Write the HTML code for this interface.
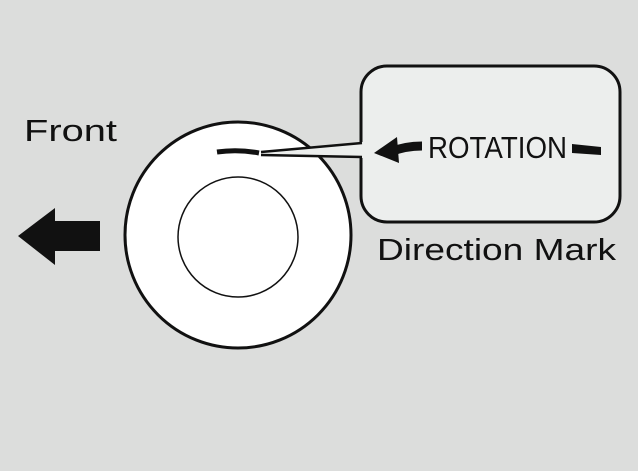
<!DOCTYPE html>
<html><head><style>
html,body{margin:0;padding:0;background:#dcdddc;}
svg{display:block}
</style></head><body>
<svg width="638" height="471" viewBox="0 0 638 471" xmlns="http://www.w3.org/2000/svg">
<rect width="638" height="471" fill="#dcdddc"/>
<circle cx="238" cy="235" r="113" fill="#fff" stroke="#111" stroke-width="3"/>
<circle cx="238" cy="237" r="60" fill="#fff" stroke="#111" stroke-width="1.5"/>
<path d="M217 152 Q238 149 259 153" stroke="#111" stroke-width="5" fill="none"/>
<rect x="361" y="66" width="259" height="156" rx="26" fill="#eceeed" stroke="#111" stroke-width="3"/>
<polygon points="261,151 363,142 363,158 261,156" fill="#eceeed"/>
<line x1="261" y1="152" x2="362" y2="143" stroke="#111" stroke-width="2.5"/>
<line x1="261" y1="155" x2="362" y2="157" stroke="#111" stroke-width="2.5"/>
<path d="M390 152 Q405 146 422 146" stroke="#111" stroke-width="9" fill="none"/>
<polygon points="374,153 397,137 399,163" fill="#111"/>
<text x="428" y="158" font-family="Liberation Sans Narrow, Liberation Sans, sans-serif" font-size="31" fill="#111" textLength="139" lengthAdjust="spacingAndGlyphs">ROTATION</text>
<path d="M572 144 L601 147 L601 155 L572 153 Z" fill="#111"/>
<text x="24" y="141" font-family="Liberation Sans, sans-serif" font-size="31" fill="#111" textLength="93" lengthAdjust="spacingAndGlyphs">Front</text>
<text x="377" y="260" font-family="Liberation Sans, sans-serif" font-size="31" fill="#111" textLength="239" lengthAdjust="spacingAndGlyphs">Direction Mark</text>
<polygon points="18,236 55,208 55,221 100,221 100,251 55,251 55,265" fill="#111"/>
</svg>
</body></html>
